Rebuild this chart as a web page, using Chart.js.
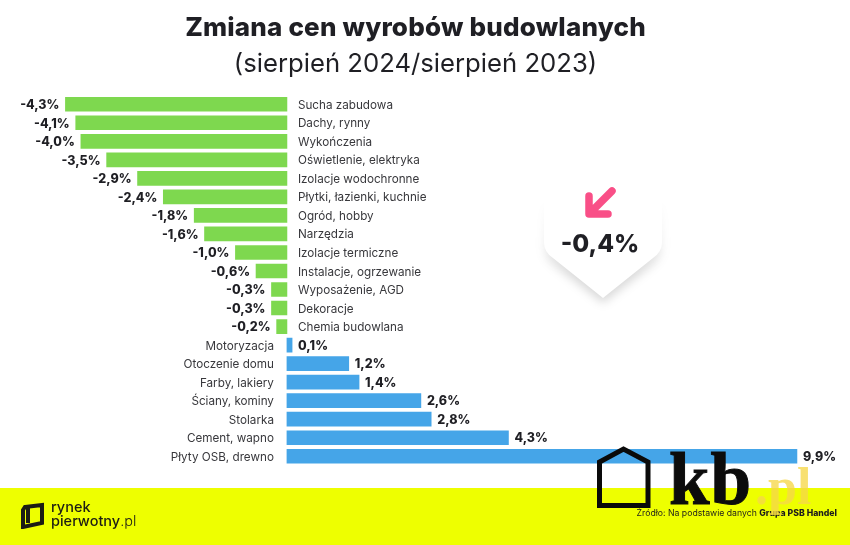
<!DOCTYPE html>
<html lang="pl">
<head>
<meta charset="utf-8">
<title>Zmiana cen wyrobów budowlanych</title>
<script src="https://cdn.jsdelivr.net/npm/chart.js@4/dist/chart.umd.min.js"></script>
<style>
    html, body { margin: 0; padding: 0; background: #fff; }
    body { position: relative; width: 850px; height: 545px; overflow: hidden; font-family: Inter, sans-serif; color: #1f1f24; }
    #footer { position: absolute; left: 0; top: 488px; width: 850px; height: 57px; background: #eeff00; }
    #chart-wrap { position: absolute; left: 0; top: 0; width: 850px; height: 545px; }
    #title { position: absolute; left: 0; top: 10px; width: 831px; text-align: center; font-size: 26px; font-weight: 800; letter-spacing: 0.2px; line-height: 34px; }
    #subtitle { position: absolute; left: 0; top: 46px; width: 831px; text-align: center; font-size: 25.700px; font-weight: 400; line-height: 34px; }
    #badge { position: absolute; left: 530px; top: 170px; }
    #badge-text { position: absolute; left: 527px; top: 228px; width: 146px; text-align: center; font-size: 24.500px; font-weight: 800; }
    #source { position: absolute; right: 13px; top: 508px; font-size: 8.700px; color: #1c1c1c; white-space: nowrap; }
    #source b { font-weight: 800; }
    #kb-house { position: absolute; left: 596px; top: 446px; }
    #kb-text { position: absolute; left: 669px; top: 440px; font: 700 73px/80px "Liberation Serif", serif; color: #0c0c0c; letter-spacing: 1px; -webkit-text-stroke: 1px #0c0c0c; }
    #kb-pl { position: absolute; left: 755px; top: 457px; font: 700 52px/60px "Liberation Serif", serif; color: #f6d84a; opacity: .78; }
    #rp-mark { position: absolute; left: 20px; top: 501px; }
    #rp-text { position: absolute; left: 51px; top: 500px; font-size: 14.500px; line-height: 14px; font-weight: 500; color: #1c1c14; }
    #rp-text span { font-weight: 300; }
</style>
</head>
<body>
<div id="footer"></div>
<div id="chart-wrap"><canvas id="priceChart"></canvas></div>
<div id="title">Zmiana cen wyrobów budowlanych</div>
<div id="subtitle">(sierpień 2024/sierpień 2023)</div>

<svg id="badge" width="146" height="150" viewBox="0 0 146 150">
    <defs>
        <filter id="soft" x="-30%" y="-30%" width="160%" height="160%">
            <feGaussianBlur stdDeviation="5"/>
        </filter>
        <linearGradient id="fade" x1="0" y1="0" x2="0" y2="1">
            <stop offset="0.2" stop-color="#fff" stop-opacity="0"/>
            <stop offset="0.7" stop-color="#fff" stop-opacity="1"/>
        </linearGradient>
        <mask id="fade-mask" maskUnits="userSpaceOnUse" x="0" y="0" width="146" height="150">
            <rect width="146" height="150" fill="url(#fade)"/>
        </mask>
    </defs>
    <g mask="url(#fade-mask)">
        <path d="M15 30 L131 30 L131 78 Q131 88 122 95 L73 133 L24 95 Q15 88 15 78 Z" fill="#000" fill-opacity="0.15" filter="url(#soft)"/>
    </g>
    <path d="M14 20 L132 20 L132 72 Q132 82 123 88 L73 128 L23 88 Q14 82 14 72 Z" fill="#fff"/>
    <path d="M82 21 L62 41 M59 26 L59 44 L78 44" fill="none" stroke="#f94f87" stroke-width="7.500" stroke-linecap="round" stroke-linejoin="round"/>
</svg>
<div id="badge-text">-0,4%</div>

<div id="source">Źródło: Na podstawie danych <b>Grupa PSB Handel</b></div>
<svg id="kb-house" width="56" height="64" viewBox="0 0 56 64">
    <path d="M3.500 59.500 L3.500 16 L27.500 3 L52 16 L52 59.500 Z" fill="none" stroke="#0a0a0a" stroke-width="5"/>
</svg>
<div id="kb-text">kb</div>
<div id="kb-pl">.pl</div>

<svg id="rp-mark" width="24" height="28" viewBox="0 0 24 28">
    <path d="M5 6 L22 4 L22 22 L3 26 L3 9 Z M8 6 L8 22" fill="none" stroke="#1c1c14" stroke-width="4"/>
</svg>
<div id="rp-text">rynek<br>pierwotny<span>.pl</span></div>

<script>
const categories = ['Sucha zabudowa', 'Dachy, rynny', 'Wykończenia', 'Oświetlenie, elektryka', 'Izolacje wodochronne', 'Płytki, łazienki, kuchnie', 'Ogród, hobby', 'Narzędzia', 'Izolacje termiczne', 'Instalacje, ogrzewanie', 'Wyposażenie, AGD', 'Dekoracje', 'Chemia budowlana', 'Motoryzacja', 'Otoczenie domu', 'Farby, lakiery', 'Ściany, kominy', 'Stolarka', 'Cement, wapno', 'Płyty OSB, drewno'];
const values = [-4.3, -4.1, -4.0, -3.5, -2.9, -2.4, -1.8, -1.6, -1.0, -0.6, -0.3, -0.3, -0.2, 0.1, 1.2, 1.4, 2.6, 2.8, 4.3, 9.9];

const GREEN = '#7ed84f';
const BLUE = '#45a5e8';
const FONT = 'Inter, sans-serif';

function formatValue(v) {
    return v.toFixed(1).replace('.', ',') + '%';
}

// Values and category names sit on opposite sides of each bar
const barLabels = {
    id: 'barLabels',
    afterDatasetsDraw(chart) {
        const { ctx, scales: { x, y } } = chart;
        const zero = x.getPixelForValue(0);
        ctx.save();
        ctx.textBaseline = 'middle';
        values.forEach((v, i) => {
            const py = y.getPixelForValue(i);
            const end = x.getPixelForValue(v);
            ctx.font = `800 12.5px ${FONT}`;
            ctx.fillStyle = '#1f1f24';
            ctx.textAlign = v < 0 ? 'right' : 'left';
            ctx.fillText(formatValue(v), end + (v < 0 ? -6 : 6), py + 1);
            ctx.font = `400 11.7px ${FONT}`;
            ctx.fillStyle = '#38383c';
            ctx.textAlign = v < 0 ? 'left' : 'right';
            ctx.fillText(categories[i], zero + (v < 0 ? 11 : -13), py + 1);
        });
        ctx.restore();
    }
};

new Chart(document.getElementById('priceChart'), {
    type: 'bar',
    data: {
        labels: categories,
        datasets: [{
            data: values,
            backgroundColor: values.map(v => (v < 0 ? GREEN : BLUE)),
            barThickness: 14,
            borderWidth: 0
        }]
    },
    options: {
        indexAxis: 'y',
        responsive: true,
        maintainAspectRatio: false,
        animation: false,
        layout: { padding: { top: 95, bottom: 79.5, left: 0, right: 0 } },
        plugins: { legend: { display: false }, tooltip: { enabled: false } },
        scales: {
            x: { display: false, min: -5.57, max: 10.93 },
            y: { display: false }
        }
    },
    plugins: [barLabels]
});
</script>
</body>
</html>
